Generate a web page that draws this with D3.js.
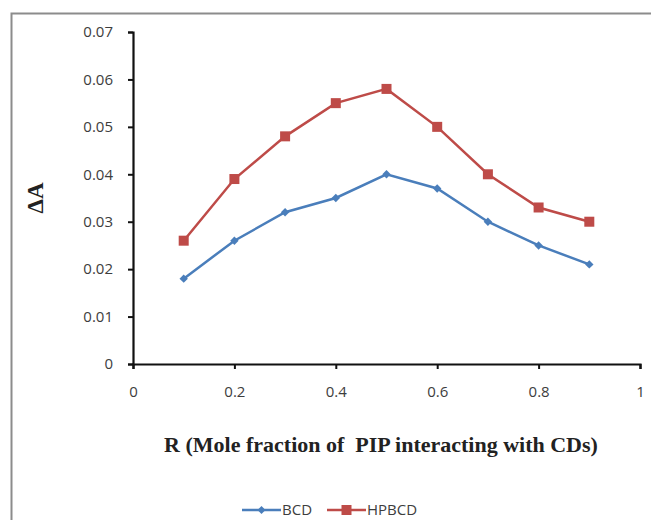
<!DOCTYPE html>
<html>
<head>
<meta charset="utf-8">
<script src="https://cdn.jsdelivr.net/npm/d3@7"></script>
<style>
  body { margin: 0; background: #fff; }
</style>
</head>
<body>
<div id="chart"></div>
<script>
// Data
var ratios = [0.1, 0.2, 0.3, 0.4, 0.5, 0.6, 0.7, 0.8, 0.9];
var bcd = [0.018, 0.026, 0.032, 0.035, 0.040, 0.037, 0.030, 0.025, 0.021];
var hpbcd = [0.026, 0.039, 0.048, 0.055, 0.058, 0.050, 0.040, 0.033, 0.030];
var xTicks = [0, 0.2, 0.4, 0.6, 0.8, 1];
var yTicks = [0, 0.01, 0.02, 0.03, 0.04, 0.05, 0.06, 0.07];
var seriesNames = ["BCD", "HPBCD"];

var svgWidth = 651;
var svgHeight = 520;

var margin = { top: 32, right: 11, bottom: 156, left: 133 };
var width = svgWidth - margin.left - margin.right;
var height = svgHeight - margin.top - margin.bottom;

var svg = d3.select("#chart")
  .append("svg")
  .attr("width", svgWidth)
  .attr("height", svgHeight);

// outer frame (top and left edges visible)
svg.append("path")
  .attr("d", "M11.5," + svgHeight + " V13.5 H" + svgWidth)
  .attr("fill", "none")
  .attr("stroke", "#8c8c8c")
  .attr("stroke-width", 2);

var chartGroup = svg.append("g")
  .attr("transform", `translate(${margin.left}, ${margin.top})`);

var xScale = d3.scaleLinear().domain([0, 1]).range([0, width]);
var yScale = d3.scaleLinear().domain([0, 0.07]).range([height, 0]);

var bottomAxis = d3.axisBottom(xScale)
  .tickValues(xTicks)
  .tickSize(5)
  .tickPadding(17)
  .tickFormat(d => d3.format("")(d));
var leftAxis = d3.axisLeft(yScale)
  .tickValues(yTicks)
  .tickSize(5)
  .tickPadding(15)
  .tickFormat(d => d === 0 ? "0" : d3.format(".2f")(d));

var xg = chartGroup.append("g")
  .attr("transform", `translate(0, ${height})`)
  .call(bottomAxis);
var yg = chartGroup.append("g")
  .call(leftAxis);

[xg, yg].forEach(function(g) {
  g.attr("font-family", "Open Sans, Liberation Sans, sans-serif")
    .attr("font-size", 15);
  g.select(".domain").attr("stroke", "#111").attr("stroke-width", 2.2);
  g.selectAll(".tick line").attr("stroke", "#111").attr("stroke-width", 2);
  g.selectAll(".tick text").attr("fill", "#3d3d3d");
});

var line = d3.line()
  .x((d, i) => xScale(ratios[i]))
  .y(d => yScale(d));

var colors = ["#4a7ebb", "#be4b48"];
var allSeries = [bcd, hpbcd];

allSeries.forEach(function(vals, s) {
  chartGroup.append("path")
    .datum(vals)
    .attr("fill", "none")
    .attr("stroke", colors[s])
    .attr("stroke-width", 2.5)
    .attr("d", line);
});

// BCD markers: diamonds
chartGroup.selectAll(".diamond")
  .data(bcd)
  .enter()
  .append("path")
  .attr("class", "diamond")
  .attr("d", d3.symbol().type(d3.symbolDiamond2).size(45))
  .attr("transform", (d, i) => `translate(${xScale(ratios[i])}, ${yScale(d)})`)
  .attr("fill", colors[0]);

// HPBCD markers: squares
chartGroup.selectAll(".square")
  .data(hpbcd)
  .enter()
  .append("rect")
  .attr("class", "square")
  .attr("x", (d, i) => xScale(ratios[i]) - 5)
  .attr("y", d => yScale(d) - 5)
  .attr("width", 10)
  .attr("height", 10)
  .attr("fill", colors[1]);

// Axis titles
svg.append("text")
  .attr("transform", "translate(43, 198) rotate(-90)")
  .attr("text-anchor", "middle")
  .style("font-family", "Liberation Serif, serif")
  .style("font-weight", "bold")
  .style("font-size", "23px")
  .attr("fill", "#222")
  .text("\u0394A");

svg.append("text")
  .attr("x", 381)
  .attr("y", 452)
  .attr("text-anchor", "middle")
  .style("font-family", "Liberation Serif, serif")
  .style("font-weight", "bold")
  .style("font-size", "22px")
  .attr("fill", "#222")
  .style("white-space", "pre")
  .text("R (Mole fraction of  PIP interacting with CDs)");

// Legend
var legendItems = [
  { name: seriesNames[0], x: 242, color: colors[0], shape: "diamond" },
  { name: seriesNames[1], x: 327, color: colors[1], shape: "square" }
];
var legend = svg.append("g").attr("transform", "translate(0, 510)");
legendItems.forEach(function(item) {
  legend.append("line")
    .attr("x1", item.x).attr("x2", item.x + 39)
    .attr("y1", 0).attr("y2", 0)
    .attr("stroke", item.color)
    .attr("stroke-width", 2.5);
  if (item.shape === "diamond") {
    legend.append("path")
      .attr("d", d3.symbol().type(d3.symbolDiamond2).size(40))
      .attr("transform", `translate(${item.x + 19.5}, 0)`)
      .attr("fill", item.color);
  } else {
    legend.append("rect")
      .attr("x", item.x + 14.5).attr("y", -5)
      .attr("width", 10).attr("height", 10)
      .attr("fill", item.color);
  }
  legend.append("text")
    .attr("x", item.x + 40)
    .attr("y", 0)
    .attr("dy", "0.35em")
    .style("font-family", "Open Sans, Liberation Sans, sans-serif")
    .style("font-size", "15px")
    .attr("fill", "#3d3d3d")
    .text(item.name);
});
</script>
</body>
</html>
